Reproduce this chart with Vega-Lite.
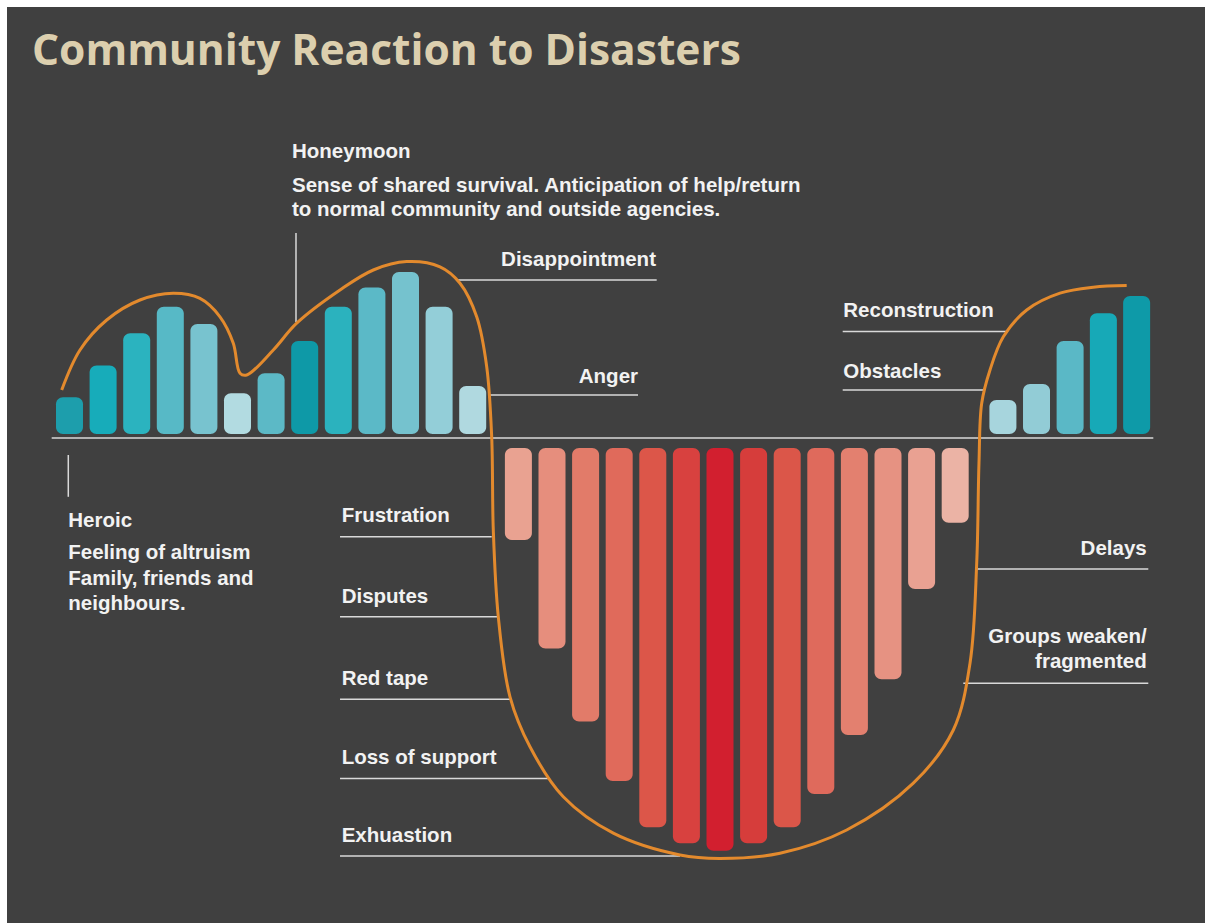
{
  "$schema": "https://vega.github.io/schema/vega-lite/v6.json",
  "width": 1205,
  "height": 923,
  "autosize": {"type": "fit", "contains": "padding"},
  "padding": {"left": 7, "top": 7, "right": 0, "bottom": 0},
  "background": "#ffffff",
  "config": {"view": {"fill": "#404040", "stroke": null}, "scale": {"continuousPadding": 0}},
  "datasets": {
    "bars": [
      {"id": "b01", "pos": 0, "value": 10.2},
      {"id": "b02", "pos": 1, "value": 18.1},
      {"id": "b03", "pos": 2, "value": 26.2},
      {"id": "b04", "pos": 3, "value": 32.8},
      {"id": "b05", "pos": 4, "value": 28.5},
      {"id": "b06", "pos": 5, "value": 11.2},
      {"id": "b07", "pos": 6, "value": 16.2},
      {"id": "b08", "pos": 7, "value": 24.25},
      {"id": "b09", "pos": 8, "value": 32.8},
      {"id": "b10", "pos": 9, "value": 37.6},
      {"id": "b11", "pos": 10, "value": 41.5},
      {"id": "b12", "pos": 11, "value": 32.8},
      {"id": "b13", "pos": 12, "value": 13.0},
      {"id": "b14", "pos": 13.36, "value": -25.5},
      {"id": "b15", "pos": 14.36, "value": -52.6},
      {"id": "b16", "pos": 15.36, "value": -70.9},
      {"id": "b17", "pos": 16.36, "value": -85.75},
      {"id": "b18", "pos": 17.36, "value": -97.3},
      {"id": "b19", "pos": 18.36, "value": -101.3},
      {"id": "b20", "pos": 19.36, "value": -103.2},
      {"id": "b21", "pos": 20.36, "value": -101.3},
      {"id": "b22", "pos": 21.36, "value": -97.3},
      {"id": "b23", "pos": 22.36, "value": -89.0},
      {"id": "b24", "pos": 23.36, "value": -74.25},
      {"id": "b25", "pos": 24.36, "value": -60.3},
      {"id": "b26", "pos": 25.36, "value": -37.75},
      {"id": "b27", "pos": 26.36, "value": -21.2},
      {"id": "b28", "pos": 27.78, "value": 9.5},
      {"id": "b29", "pos": 28.78, "value": 13.5},
      {"id": "b30", "pos": 29.78, "value": 24.25},
      {"id": "b31", "pos": 30.77, "value": 31.2},
      {"id": "b32", "pos": 31.76, "value": 35.5}
    ],
    "curve": [
      {"i": 1, "x": -0.232, "y": 12.0},
      {"i": 2, "x": 0.3125, "y": 22.0},
      {"i": 3, "x": 1.107, "y": 29.5},
      {"i": 4, "x": 2.098, "y": 34.5},
      {"i": 5, "x": 3.089, "y": 36.2},
      {"i": 6, "x": 3.884, "y": 34.9},
      {"i": 7, "x": 4.479, "y": 30.3},
      {"i": 8, "x": 4.875, "y": 23.7},
      {"i": 9, "x": 5.074, "y": 16.2},
      {"i": 10, "x": 5.274, "y": 15.75},
      {"i": 11, "x": 6.065, "y": 22.0},
      {"i": 12, "x": 6.762, "y": 28.7},
      {"i": 13, "x": 8.051, "y": 37.0},
      {"i": 14, "x": 9.042, "y": 42.0},
      {"i": 15, "x": 10.036, "y": 44.1},
      {"i": 16, "x": 11.027, "y": 42.8},
      {"i": 17, "x": 11.622, "y": 38.7},
      {"i": 18, "x": 12.119, "y": 30.3},
      {"i": 19, "x": 12.417, "y": 17.8},
      {"i": 20, "x": 12.565, "y": 0.3},
      {"i": 21, "x": 12.613, "y": -23.0},
      {"i": 22, "x": 12.762, "y": -44.7},
      {"i": 23, "x": 13.11, "y": -64.7},
      {"i": 24, "x": 13.705, "y": -77.2},
      {"i": 25, "x": 14.696, "y": -89.7},
      {"i": 26, "x": 16.185, "y": -98.8},
      {"i": 27, "x": 18.17, "y": -104.25},
      {"i": 28, "x": 19.36, "y": -105.1},
      {"i": 29, "x": 21.146, "y": -103.8},
      {"i": 30, "x": 23.131, "y": -98.0},
      {"i": 31, "x": 25.113, "y": -86.3},
      {"i": 32, "x": 26.304, "y": -73.0},
      {"i": 33, "x": 26.801, "y": -56.3},
      {"i": 34, "x": 27.0, "y": -31.3},
      {"i": 35, "x": 27.068, "y": -6.25},
      {"i": 36, "x": 27.149, "y": 8.7},
      {"i": 37, "x": 27.396, "y": 17.0},
      {"i": 38, "x": 27.792, "y": 25.3},
      {"i": 39, "x": 28.488, "y": 32.0},
      {"i": 40, "x": 29.479, "y": 36.2},
      {"i": 41, "x": 30.47, "y": 37.7},
      {"i": 42, "x": 31.464, "y": 38.1}
    ],
    "hlines": [
      {"name": "baseline", "x": -0.53, "x2": 32.256, "y": 0},
      {"name": "Disappointment", "x": 11.524, "x2": 17.476, "y": 39.5},
      {"name": "Anger", "x": 12.485, "x2": 16.92, "y": 10.75},
      {"name": "Reconstruction", "x": 23.012, "x2": 27.932, "y": 26.6},
      {"name": "Obstacles", "x": 23.012, "x2": 27.247, "y": 12.0},
      {"name": "Frustration", "x": 8.051, "x2": 12.565, "y": -24.7},
      {"name": "Disputes", "x": 8.051, "x2": 12.753, "y": -44.7},
      {"name": "Red tape", "x": 8.051, "x2": 13.11, "y": -65.3},
      {"name": "Loss of support", "x": 8.051, "x2": 14.241, "y": -85.1},
      {"name": "Exhuastion", "x": 8.051, "x2": 18.17, "y": -104.5},
      {"name": "Delays", "x": 26.949, "x2": 32.107, "y": -32.75},
      {"name": "Groups weaken", "x": 26.601, "x2": 32.107, "y": -61.3}
    ],
    "vlines": [
      {"name": "Honeymoon", "x": 6.741, "y": 51.25, "y2": 29.0},
      {"name": "Heroic", "x": -0.036, "y": -4.25, "y2": -14.7}
    ],
    "leftText": [
      {"t": "Honeymoon", "x": 6.622, "y": 69.9},
      {"t": "Sense of shared survival. Anticipation of help/return", "x": 6.622, "y": 61.6},
      {"t": "to normal community and outside agencies.", "x": 6.622, "y": 55.4},
      {"t": "Reconstruction", "x": 23.03, "y": 30.2},
      {"t": "Obstacles", "x": 23.03, "y": 14.9},
      {"t": "Heroic", "x": -0.036, "y": -22.3},
      {"t": "Feeling of altruism", "x": -0.036, "y": -30.3},
      {"t": "Family, friends and", "x": -0.036, "y": -36.75},
      {"t": "neighbours.", "x": -0.036, "y": -43.0},
      {"t": "Frustration", "x": 8.1, "y": -20.9},
      {"t": "Disputes", "x": 8.1, "y": -41.3},
      {"t": "Red tape", "x": 8.1, "y": -61.75},
      {"t": "Loss of support", "x": 8.1, "y": -81.6},
      {"t": "Exhuastion", "x": 8.1, "y": -100.9}
    ],
    "rightText": [
      {"t": "Disappointment", "x": 17.455, "y": 43.0},
      {"t": "Anger", "x": 16.92, "y": 13.75},
      {"t": "Delays", "x": 32.06, "y": -29.25},
      {"t": "Groups weaken/", "x": 32.06, "y": -51.3},
      {"t": "fragmented", "x": 32.06, "y": -57.6}
    ],
    "titleText": [
      {"t": "Community Reaction to Disasters", "x": -1.116, "y": 93.25}
    ]
  },
  "layer": [
    {
      "data": {"name": "bars"},
      "transform": [{"filter": "datum.value > 0"}],
      "mark": {"type": "bar", "width": 27, "cornerRadius": 7},
      "encoding": {
        "x": {"field": "pos", "type": "quantitative", "scale": {"domain": [-1.8601, 33.7946], "nice": false, "zero": false, "padding": 0}, "axis": null},
        "y": {"field": "value", "type": "quantitative", "scale": {"domain": [-121.25, 107.75], "nice": false, "zero": false, "padding": 0}, "axis": null},
        "y2": {"datum": 1},
        "color": {
          "field": "id", "type": "nominal", "legend": null,
          "scale": {
            "domain": ["b01","b02","b03","b04","b05","b06","b07","b08","b09","b10","b11","b12","b13","b14","b15","b16","b17","b18","b19","b20","b21","b22","b23","b24","b25","b26","b27","b28","b29","b30","b31","b32"],
            "range": ["#1d9eac","#17acba","#2bb3bf","#57b9c6","#78c3cf","#b2dbe1","#5cb9c6","#0e99a7","#2bb2be","#5bb9c7","#75c2ce","#93ced8","#b0d9e0","#e9a291","#e68e7d","#e27b69","#e06a5b","#dc5649","#d8413f","#d21f2f","#d63d3b","#db5649","#df6a5c","#e3806f","#e69282","#e9a192","#ebb3a5","#a7d5dd","#92ccd6","#5ab8c6","#17a9b7","#0e9aa8"]
          }
        }
      }
    },
    {
      "data": {"name": "bars"},
      "transform": [{"filter": "datum.value < 0"}],
      "mark": {"type": "bar", "width": 27, "cornerRadius": 7},
      "encoding": {
        "x": {"field": "pos", "type": "quantitative"},
        "y": {"field": "value", "type": "quantitative"},
        "y2": {"datum": -2.5},
        "color": {"field": "id", "type": "nominal", "legend": null}
      }
    },
    {
      "data": {"name": "hlines"},
      "mark": {"type": "rule", "color": "#d9d9d9", "strokeWidth": 1.5},
      "encoding": {
        "x": {"field": "x", "type": "quantitative"},
        "x2": {"field": "x2"},
        "y": {"field": "y", "type": "quantitative"}
      }
    },
    {
      "data": {"name": "vlines"},
      "mark": {"type": "rule", "color": "#d9d9d9", "strokeWidth": 1.5},
      "encoding": {
        "x": {"field": "x", "type": "quantitative"},
        "y": {"field": "y", "type": "quantitative"},
        "y2": {"field": "y2"}
      }
    },
    {
      "data": {"name": "curve"},
      "mark": {"type": "line", "color": "#e38a2d", "strokeWidth": 3, "interpolate": "catmull-rom"},
      "encoding": {
        "x": {"field": "x", "type": "quantitative"},
        "y": {"field": "y", "type": "quantitative"},
        "order": {"field": "i"}
      }
    },
    {
      "data": {"name": "leftText"},
      "mark": {"type": "text", "align": "left", "baseline": "alphabetic", "font": "Liberation Sans", "fontWeight": "bold", "fontSize": 20.5, "color": "#f2f2f2"},
      "encoding": {
        "x": {"field": "x", "type": "quantitative"},
        "y": {"field": "y", "type": "quantitative"},
        "text": {"field": "t"}
      }
    },
    {
      "data": {"name": "rightText"},
      "mark": {"type": "text", "align": "right", "baseline": "alphabetic", "font": "Liberation Sans", "fontWeight": "bold", "fontSize": 20.5, "color": "#f2f2f2"},
      "encoding": {
        "x": {"field": "x", "type": "quantitative"},
        "y": {"field": "y", "type": "quantitative"},
        "text": {"field": "t"}
      }
    },
    {
      "data": {"name": "titleText"},
      "mark": {"type": "text", "align": "left", "baseline": "alphabetic", "font": "Open Sans", "fontWeight": "bold", "fontSize": 42.5, "color": "#dccfae"},
      "encoding": {
        "x": {"field": "x", "type": "quantitative"},
        "y": {"field": "y", "type": "quantitative"},
        "text": {"field": "t"}
      }
    }
  ]
}
